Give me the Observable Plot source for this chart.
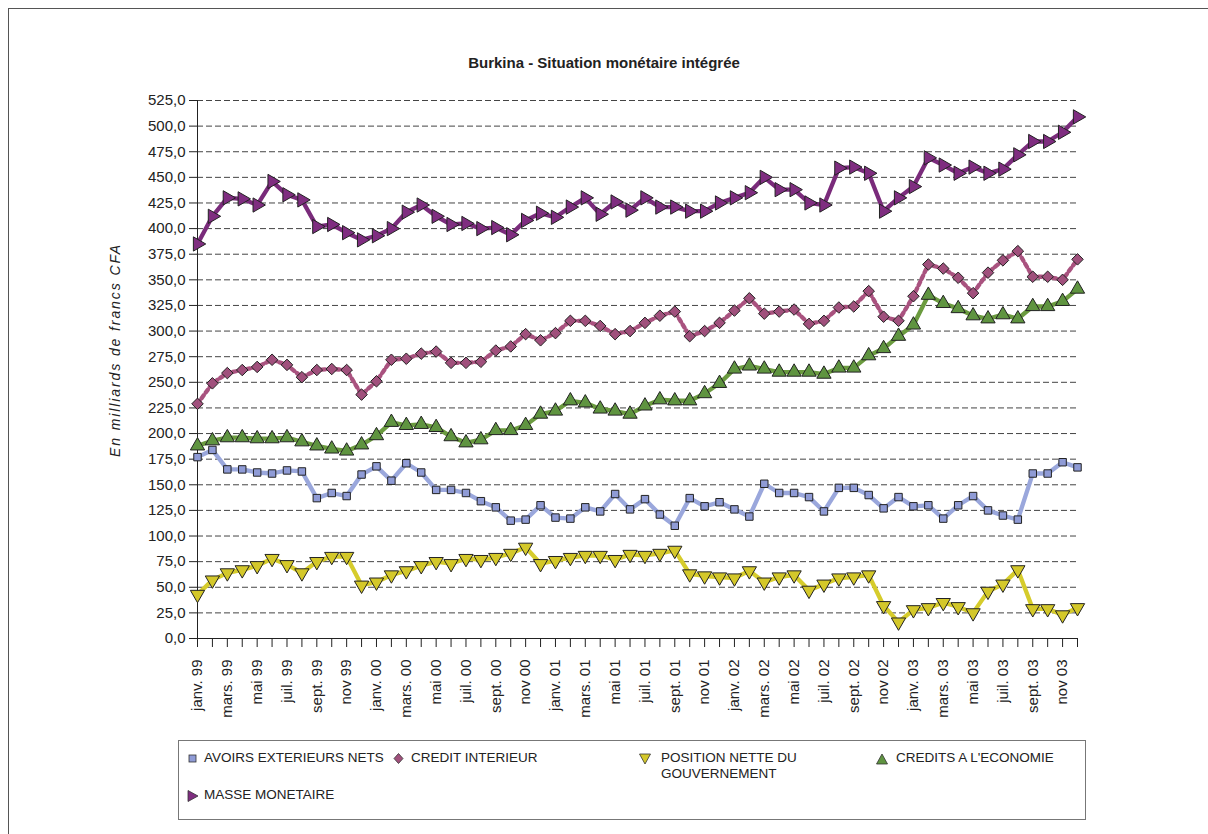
<!DOCTYPE html>
<html>
<head>
<meta charset="utf-8">
<script src="https://cdn.jsdelivr.net/npm/d3@7"></script>
<script src="https://cdn.jsdelivr.net/npm/@observablehq/plot@0.6"></script>
<style>
  html, body { margin: 0; padding: 0; background: #fff; overflow: hidden; }
  #wrap { position: relative; width: 1208px; height: 834px; font-family: "Liberation Sans", Arial, sans-serif; color: #222; }
  #border { position: absolute; left: 8px; top: 8px; width: 1220px; height: 840px; border: 1px solid #555; box-sizing: border-box; }
  #title { position: absolute; left: 0; width: 1208px; top: 54px; text-align: center; font-weight: bold; font-size: 15px; }
  #ylabel { position: absolute; left: 115px; top: 350px; transform: translate(-50%, -50%) rotate(-90deg); font-style: italic; font-size: 14px; letter-spacing: 1.9px; white-space: nowrap; }
  #chart { position: absolute; left: 0; top: 0; }
  #legend { position: absolute; left: 178px; top: 740px; width: 908px; height: 80px; border: 1px solid #777; box-sizing: border-box; font-size: 13.5px; }
  .item { position: absolute; display: flex; align-items: flex-start; line-height: 16px; }
  .item svg { margin-top: 3px; }
</style>
</head>
<body>
<div id="wrap">
  <div id="border"></div>
  <div id="title">Burkina - Situation monétaire intégrée</div>
  <div id="ylabel">En milliards de francs CFA</div>
  <div id="chart"></div>
  <div id="legend"></div>
</div>
<script>
const months = [
  "janv. 99","févr. 99","mars. 99","avr. 99","mai 99","juin 99","juil. 99","août 99","sept. 99","oct. 99","nov 99","déc. 99",
  "janv. 00","févr. 00","mars. 00","avr. 00","mai 00","juin 00","juil. 00","août 00","sept. 00","oct. 00","nov 00","déc. 00",
  "janv. 01","févr. 01","mars. 01","avr. 01","mai 01","juin 01","juil. 01","août 01","sept. 01","oct. 01","nov 01","déc. 01",
  "janv. 02","févr. 02","mars. 02","avr. 02","mai 02","juin 02","juil. 02","août 02","sept. 02","oct. 02","nov 02","déc. 02",
  "janv. 03","févr. 03","mars. 03","avr. 03","mai 03","juin 03","juil. 03","août 03","sept. 03","oct. 03","nov 03","déc. 03"
];

const avoirsExterieursNets = [
  177,184,165,165,162,161,164,163,137,142,139,160,
  168,154,171,162,145,145,142,134,128,115,116,130,
  118,117,128,124,141,126,136,121,110,137,129,133,
  126,119,151,142,142,138,124,147,147,140,127,138,
  129,130,117,130,139,125,120,116,161,161,172,167
];
const creditInterieur = [
  229,249,259,262,265,272,267,255,262,263,262,238,
  251,272,273,278,280,269,269,270,281,285,297,291,
  298,310,310,305,297,300,308,315,319,295,300,308,
  320,332,317,319,321,307,310,323,324,339,314,310,
  334,365,361,352,337,357,369,378,353,353,350,370
];
const positionNetteGouvernement = [
  43,57,64,67,71,78,72,64,75,80,80,52,
  55,62,66,71,75,73,78,77,79,83,89,73,
  76,79,81,81,77,82,81,83,86,63,61,60,
  59,66,55,60,62,47,53,59,60,62,32,16,
  28,30,35,31,25,46,53,67,29,29,23,30
];
const creditsEconomie = [
  188,193,196,196,195,195,196,192,188,185,183,189,
  198,211,208,209,206,197,191,194,203,203,208,219,
  222,232,230,224,222,219,227,233,232,232,239,249,
  263,266,263,260,260,260,258,264,264,276,283,295,
  306,335,327,322,315,312,316,312,324,324,329,341
];
const masseMonetaire = [
  385,412,430,429,423,446,433,428,402,404,396,389,
  393,400,416,423,412,404,405,400,401,394,408,415,
  411,421,430,414,426,418,430,421,421,417,417,425,
  430,435,450,438,438,425,423,459,460,454,417,430,
  441,469,462,454,460,454,458,472,485,485,494,509
];

const yTicks = [0,25,50,75,100,125,150,175,200,225,250,275,300,325,350,375,400,425,450,475,500,525];

const seriesNames = ["AVOIRS EXTERIEURS NETS","CREDIT INTERIEUR","POSITION NETTE DU GOUVERNEMENT","CREDITS A L'ECONOMIE","MASSE MONETAIRE"];

const styles = [
  {values: avoirsExterieursNets, line: "#9aa7dc", fill: "#8f9bd6", symbol: "square", r: 4.2, rotate: 0, dash: null},
  {values: creditInterieur, line: "#a9527f", fill: "#a0507c", symbol: "diamond2", r: 5.2, rotate: 0, dash: "3.5,3.5"},
  {values: positionNetteGouvernement, line: "#d6cc2c", fill: "#d4c82a", symbol: "triangle", r: 5.3, rotate: 180, dash: null},
  {values: creditsEconomie, line: "#6b9b3f", fill: "#5f9440", symbol: "triangle", r: 5.3, rotate: 0, dash: null},
  {values: masseMonetaire, line: "#7a2b7b", fill: "#7f2d80", symbol: "triangle", r: 5.3, rotate: 90, dash: null}
];

const marks = [
  Plot.gridY({ticks: yTicks, stroke: "#444", strokeOpacity: 1, strokeDasharray: "6,3", strokeWidth: 1}),
  Plot.axisY({ticks: yTicks, tickSize: 8, tickPadding: 4, fontSize: 15, tickFormat: d => d.toFixed(1).replace(".", ","), label: null, stroke: "#222"}),
  Plot.axisX({tickRotate: -90, tickSize: 9, tickPadding: 12, fontSize: 15, letterSpacing: 1, tickFormat: (d) => (months.indexOf(d) % 2 === 0 ? d : ""), label: null, stroke: "#222"}),
  Plot.frame({anchor: "left", stroke: "#222"}),
  Plot.ruleY([0], {stroke: "#222"})
];

styles.forEach((s, k) => {
  const rows = months.map((m, i) => ({month: m, value: s.values[i], series: seriesNames[k]}));
  marks.push(Plot.line(rows, {x: "month", y: "value", stroke: s.line, strokeWidth: 4.3, strokeLinejoin: "round", strokeDasharray: s.dash || undefined}));
  marks.push(Plot.dot(rows, {x: "month", y: "value", symbol: s.symbol, r: s.r, fill: s.fill, stroke: "#222", strokeWidth: 1, rotate: s.rotate}));
});

const chart = Plot.plot({
  width: 1208,
  height: 730,
  marginLeft: 197,
  marginRight: 131,
  marginTop: 100,
  marginBottom: 92,
  style: {fontFamily: "'Liberation Sans', Arial, sans-serif", color: "#222", background: "transparent", overflow: "visible"},
  x: {type: "point", domain: months, padding: 0},
  y: {domain: [0, 525]},
  marks
});
document.getElementById("chart").appendChild(chart);

// Legend
const legendItems = [
  {name: "AVOIRS EXTERIEURS NETS", k: 0, left: 8, top: 9, gap: 5},
  {name: "CREDIT INTERIEUR", k: 1, left: 214, top: 9, gap: 6},
  {name: "POSITION NETTE DU<br>GOUVERNEMENT", k: 2, left: 460, top: 9, gap: 10},
  {name: "CREDITS A L'ECONOMIE", k: 3, left: 697, top: 9, gap: 8},
  {name: "MASSE MONETAIRE", k: 4, left: 8, top: 46, gap: 5}
];
const shapes = {
  0: '<rect x="2" y="2" width="7" height="7"/>',
  1: '<path d="M5.5 0.5 L10 5.5 L5.5 10.5 L1 5.5 Z"/>',
  2: '<path d="M0.5 1 L11.5 1 L6 11 Z"/>',
  3: '<path d="M0.5 11 L11.5 11 L6 1 Z"/>',
  4: '<path d="M1 0.5 L11 6 L1 11.5 Z"/>'
};
const legend = document.getElementById("legend");
legendItems.forEach(it => {
  const s = styles[it.k];
  const div = document.createElement("div");
  div.className = "item";
  div.style.left = it.left + "px";
  div.style.top = it.top + "px";
  div.innerHTML = `<svg width="12" height="12" style="overflow:visible"><g fill="${s.fill}" stroke="#333" stroke-width="0.8">${shapes[it.k]}</g></svg><span style="margin-left:${it.gap}px">${it.name}</span>`;
  legend.appendChild(div);
});
</script>
</body>
</html>
